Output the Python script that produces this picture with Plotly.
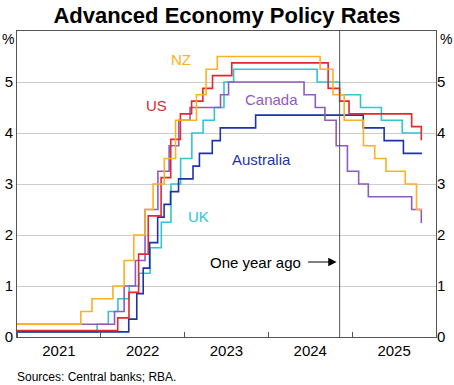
import plotly.graph_objects as go

START = "2021-01-01"
END = "2025-11-01"

# Policy rates: change dates and new levels (per cent)
nz_dates = [START, "2021-10-06", "2021-11-24", "2022-02-23", "2022-04-13", "2022-05-25", "2022-07-13",
            "2022-08-17", "2022-10-05", "2022-11-23", "2023-02-22", "2023-04-05", "2023-05-24",
            "2024-08-14", "2024-10-09", "2024-11-27", "2025-02-19", "2025-04-09", "2025-05-28",
            "2025-08-20", "2025-10-08", END]
nz_rates = [0.25, 0.5, 0.75, 1.0, 1.5, 2.0, 2.5, 3.0, 3.5, 4.25, 4.75, 5.25, 5.5,
            5.25, 4.75, 4.25, 3.75, 3.5, 3.25, 3.0, 2.5, 2.5]

us_dates = [START, "2022-03-16", "2022-05-04", "2022-06-15", "2022-07-27", "2022-09-21", "2022-11-02",
            "2022-12-14", "2023-02-01", "2023-03-22", "2023-05-03", "2023-07-26", "2024-09-18",
            "2024-11-07", "2024-12-18", "2025-09-17", "2025-10-29", END]
us_rates = [0.125, 0.375, 0.875, 1.625, 2.375, 3.125, 3.875, 4.375, 4.625, 4.875, 5.125, 5.375,
            4.875, 4.625, 4.375, 4.125, 3.875, 3.875]

ca_dates = [START, "2022-03-02", "2022-04-13", "2022-06-01", "2022-07-13", "2022-09-07", "2022-10-26",
            "2022-12-07", "2023-01-25", "2023-06-07", "2023-07-12", "2024-06-05", "2024-07-24",
            "2024-09-04", "2024-10-23", "2024-12-11", "2025-01-29", "2025-03-12", "2025-09-17",
            "2025-10-29", END]
ca_rates = [0.25, 0.5, 1.0, 1.5, 2.5, 3.25, 3.75, 4.25, 4.5, 4.75, 5.0, 4.75, 4.5, 4.25, 3.75,
            3.25, 3.0, 2.75, 2.5, 2.25, 2.25]

uk_dates = [START, "2021-12-16", "2022-02-03", "2022-03-17", "2022-05-05", "2022-06-16", "2022-08-04",
            "2022-09-22", "2022-11-03", "2022-12-15", "2023-02-02", "2023-03-23", "2023-05-11",
            "2023-06-22", "2023-08-03", "2024-08-01", "2024-11-07", "2025-02-06", "2025-05-08",
            "2025-08-07", END]
uk_rates = [0.1, 0.25, 0.5, 0.75, 1.0, 1.25, 1.75, 2.25, 3.0, 3.5, 4.0, 4.25, 4.5, 5.0, 5.25,
            5.0, 4.75, 4.5, 4.25, 4.0, 4.0]

au_dates = [START, "2022-05-03", "2022-06-07", "2022-07-05", "2022-08-02", "2022-09-06", "2022-10-04",
            "2022-11-01", "2022-12-06", "2023-02-07", "2023-03-07", "2023-05-02", "2023-06-06",
            "2023-11-07", "2025-02-18", "2025-05-20", "2025-08-12", END]
au_rates = [0.1, 0.35, 0.85, 1.35, 1.85, 2.35, 2.6, 2.85, 3.1, 3.35, 3.6, 3.85, 4.1, 4.35,
            4.1, 3.85, 3.6, 3.6]

one_year_ago = "2024-11-07"
y_ticks = [0, 1, 2, 3, 4, 5]

FONT = "Liberation Sans, Arial, sans-serif"
C_NZ = "#FBB122"
C_US = "#E4282B"
C_CA = "#8E5BBF"
C_UK = "#2FC6D2"
C_AU = "#1E33A8"
AXIS_COL = "#555555"

fig = go.Figure()
for name, xs, ys, col in [("UK", uk_dates, uk_rates, C_UK),
                          ("Australia", au_dates, au_rates, C_AU),
                          ("Canada", ca_dates, ca_rates, C_CA),
                          ("US", us_dates, us_rates, C_US),
                          ("NZ", nz_dates, nz_rates, C_NZ)]:
    fig.add_trace(go.Scatter(x=xs, y=ys, mode="lines", line=dict(shape="hv", color=col, width=1.6),
                             name=name, showlegend=False, hoverinfo="skip"))

# invisible trace to anchor the right-hand axis
fig.add_trace(go.Scatter(x=[START], y=[0], yaxis="y2", mode="lines", showlegend=False,
                         line=dict(width=0), hoverinfo="skip"))

fig.add_shape(type="line", xref="x", yref="paper", x0=one_year_ago, x1=one_year_ago, y0=0, y1=1,
              line=dict(color=AXIS_COL, width=1))

def px_to_paper(px, py):
    return (px - 17) / 419.0, (337 - py) / 306.0

labels = [("NZ", 181, 59, C_NZ), ("US", 156, 105, C_US), ("Canada", 271, 99, C_CA),
          ("Australia", 261, 159, C_AU), ("UK", 198, 216, C_UK)]
for txt, px, py, col in labels:
    ax_, ay_ = px_to_paper(px, py)
    fig.add_annotation(text=txt, x=ax_, y=ay_, xref="paper", yref="paper", showarrow=False,
                       xanchor="center", yanchor="middle",
                       font=dict(family=FONT, size=15, color=col))

tx, ty = px_to_paper(303, 262)
fig.add_annotation(text="One year ago", x=tx, y=ty, xref="paper", yref="paper", xanchor="right",
                   yanchor="middle", showarrow=False, font=dict(family=FONT, size=15, color="#000000"))
fig.add_annotation(text="", x=one_year_ago, y=(337 - 262) / 51.0, xref="x", yref="y",
                   showarrow=True, ax=-33, ay=0, arrowhead=2, arrowsize=1.4, arrowwidth=1.2,
                   arrowcolor="#000000", standoff=3)

for px in [8, 446]:
    xp, yp = px_to_paper(px, 39)
    fig.add_annotation(text="%", x=xp, y=yp, xref="paper", yref="paper",
                       xanchor="center", yanchor="middle", showarrow=False,
                       font=dict(family=FONT, size=14, color="#000000"))

sx, sy = px_to_paper(15, 377)
fig.add_annotation(text="Sources: Central banks; RBA.", x=sx, y=sy,
                   xref="paper", yref="paper", showarrow=False, xanchor="left", yanchor="middle",
                   font=dict(family=FONT, size=12, color="#000000"))

fig.update_layout(
    width=454, height=385,
    margin=dict(l=17, r=18, t=31, b=48, autoexpand=False),
    paper_bgcolor="white", plot_bgcolor="white",
    title=dict(text="<b>Advanced Economy Policy Rates</b>", x=0.5, xanchor="center",
               y=1 - 15 / 385.0, yanchor="middle", font=dict(family=FONT, size=22, color="#000000")),
    font=dict(family=FONT, size=15, color="#000000"),
    xaxis=dict(type="date", range=["2021-01-01", "2026-01-01"], dtick="M12", tick0="2021-01-01",
               tickformat="%Y", ticklabelmode="period", ticks="inside", ticklen=5,
               tickcolor=AXIS_COL, showgrid=False, showline=True, mirror=True,
               linecolor=AXIS_COL, linewidth=1, tickfont=dict(size=15), automargin=False),
    yaxis=dict(range=[0, 6], tickvals=y_ticks, showgrid=True, gridcolor="#CCCCCC", gridwidth=1,
               zeroline=False, showline=True, mirror=True, linecolor=AXIS_COL, linewidth=1,
               ticks="", tickfont=dict(size=15), automargin=False),
    yaxis2=dict(range=[0, 6], tickvals=y_ticks, overlaying="y", side="right", showgrid=False,
                zeroline=False, showline=False, ticks="", tickfont=dict(size=15), automargin=False),
)

fig.write_html("out.html", config={"displayModeBar": False, "staticPlot": True},
               post_script="document.body.style.margin='0px';")
